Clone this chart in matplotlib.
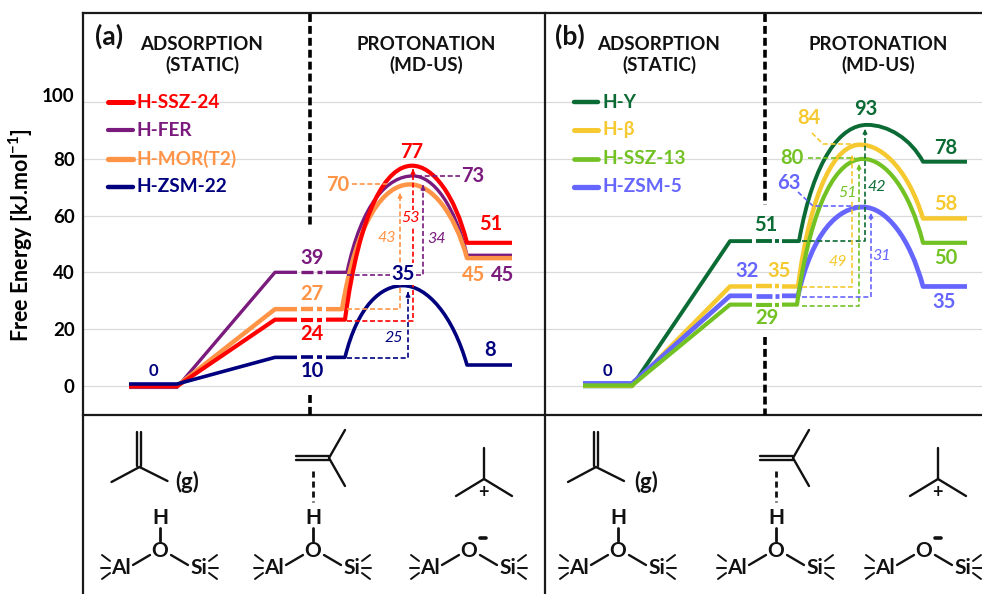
import matplotlib
matplotlib.use('Agg')
import matplotlib.pyplot as plt
from matplotlib.path import Path
from matplotlib.patches import PathPatch
from matplotlib.transforms import ScaledTranslation

plt.rcParams['font.family'] = ['Lato', 'DejaVu Sans']
plt.rcParams['font.weight'] = 'bold'
plt.rcParams['mathtext.fontset'] = 'custom'
plt.rcParams['mathtext.bf'] = 'Lato:bold'

# panel (a), order = drawing order
names_a = ['H-FER', 'H-MOR(T2)', 'H-SSZ-24', 'H-ZSM-22']
colors_a = ['#7A1A7D', '#FF9447', '#FF0000', '#00007F']
widths_a = [2.4, 3.2, 3.0, 2.6]
zero_a = [-0.6, -0.1, -0.2, 0.6]
ads_a = [40, 27, 23.3, 10]
peak_a = [74, 71, 77.6, 35.3]
prod_a = [46, 45, 50.4, 7.3]
peak_x_a = [413, 410, 412, 403]
hill_start_a = [347, 342, 345, 345]

# panel (b)
names_b = ['H-Y', 'H-β', 'H-SSZ-13', 'H-ZSM-5']
colors_b = ['#0B6B34', '#F5C92F', '#72C224', '#6666FF']
widths_b = [2.8, 3.2, 3.0, 3.4]
zero_b = [-0.2, 0.0, 0.1, 0.8]
ads_b = [51, 35, 28.6, 31.7]
peak_b = [92, 85, 80, 63]
prod_b = [79, 59, 50.4, 35]
peak_x_b = [867, 860, 863, 863]
hill_start_b = [799, 798, 797, 798]
draw_order_b = [0, 1, 3, 2]

yticks = [0, 20, 40, 60, 80, 100]

# pixel layout of the original figure
W, H = 982, 594
TOP, BOTTOM = 13, 415
Y0, PX_PER_UNIT = 385.7, 2.835


def to_y(py):
    return (Y0 - py) / PX_PER_UNIT


fig = plt.figure(figsize=(W / 100, H / 100), dpi=100)
ax_a = fig.add_axes([83 / W, (H - BOTTOM) / H, 462 / W, (BOTTOM - TOP) / H])
ax_b = fig.add_axes([545 / W, (H - BOTTOM) / H, 437 / W, (BOTTOM - TOP) / H])
ax_a.set_xlim(83, 545)
ax_b.set_xlim(545, 982)
for ax in (ax_a, ax_b):
    ax.set_ylim(to_y(BOTTOM), to_y(TOP))
    ax.set_yticks(yticks)
    ax.set_xticks([])
    ax.grid(axis='y', color='#DADADA', lw=0.9)
    ax.set_axisbelow(True)
    ax.tick_params(axis='y', length=0, labelsize=13.5, pad=6)
    for s in ax.spines.values():
        s.set_visible(False)
ax_b.tick_params(axis='y', labelleft=False)
ax_a.set_ylabel('Free Energy [kJ.mol$^{\\mathbf{-1}}$]', fontsize=15.5, fontweight='bold')
ax_a.yaxis.set_label_coords(-48 / 462, 0.448)

# the 100 label sits a little above its grid line in the original
top_label = ax_a.get_yticklabels()[-1]
top_label.set_transform(top_label.get_transform() + ScaledTranslation(0, 7 / 100, fig.dpi_scale_trans))

# overlay in pixel coordinates for frame, labels and structures
ov = fig.add_axes([0, 0, 1, 1], facecolor='none')
ov.set_xlim(0, W)
ov.set_ylim(H, 0)
ov.axis('off')


def draw_profile(ax, st, z, a, p, b, xp, x_start, color, lw):
    ax.plot([st['zero_l'], st['zero_r'], st['ads_l'], st['gap_l']], [z, z, a, a],
            color=color, lw=lw, solid_joinstyle='round', solid_capstyle='butt')
    # dash-dot break of the adsorption level
    ax.plot(st['dash'], [a, a], color=color, lw=lw, solid_capstyle='butt')
    ax.plot(st['dot'], [a, a], color=color, lw=lw, solid_capstyle='butt')
    dl = xp - x_start
    dr = st['foot'] - xp
    verts = [(st['gap_r'], a), (x_start, a),
             (x_start + 0.22 * dl, a + 0.72 * (p - a)), (xp - 0.38 * dl, p), (xp, p),
             (xp + 0.38 * dr, p), (st['foot'] - 0.22 * dr, b + 0.62 * (p - b)), (st['foot'], b),
             (st['end'], b)]
    codes = [Path.MOVETO, Path.LINETO,
             Path.CURVE4, Path.CURVE4, Path.CURVE4,
             Path.CURVE4, Path.CURVE4, Path.CURVE4,
             Path.LINETO]
    ax.add_patch(PathPatch(Path(verts, codes), fc='none', ec=color, lw=lw, joinstyle='round', capstyle='butt'))


stations_a = dict(zero_l=129, zero_r=177, ads_l=275, gap_l=297, dash=[301, 313], dot=[317, 322],
                  gap_r=326, foot=467, end=512)
stations_b = dict(zero_l=583, zero_r=632, ads_l=730, gap_l=752, dash=[756, 772], dot=[775, 779],
                  gap_r=782, foot=923, end=967)
for i in range(4):
    draw_profile(ax_a, stations_a, zero_a[i], ads_a[i], peak_a[i], prod_a[i], peak_x_a[i], hill_start_a[i],
                 colors_a[i], widths_a[i])
for i in draw_order_b:
    draw_profile(ax_b, stations_b, zero_b[i], ads_b[i], peak_b[i], prod_b[i], peak_x_b[i], hill_start_b[i],
                 colors_b[i], widths_b[i])

# frame
for seg in [((83, 83), (13, 594)), ((83, 982), (13, 13)), ((545, 545), (13, 594)), ((83, 982), (415, 415))]:
    ov.plot(seg[0], seg[1], color='#1A1A1A', lw=1.6, solid_capstyle='projecting')

# phase separators
for xs, y1, y2 in [(310, 228, 395), (765, 205, 337)]:
    ov.plot([xs, xs], [14, y1], color='black', lw=2.6, ls=(0, (2.2, 1.1)))
    ov.plot([xs, xs], [y2, 415], color='black', lw=2.6, ls=(0, (2.2, 1.1)))

# headings
for x, t1, t2 in [(202, 'ADSORPTION', '(STATIC)'), (426, 'PROTONATION', '(MD-US)'),
                  (659, 'ADSORPTION', '(STATIC)'), (878, 'PROTONATION', '(MD-US)')]:
    ov.text(x, 44, t1, ha='center', va='center', fontsize=13.5, color='#111111')
    ov.text(x, 65, t2, ha='center', va='center', fontsize=13.5, color='#111111')
ov.text(109, 36, '(a)', ha='center', va='center', fontsize=19, color='#111111')
ov.text(570, 36, '(b)', ha='center', va='center', fontsize=19, color='#111111')

# legends
legend_rows = [102, 130, 159, 187]
order_a = [2, 0, 1, 3]
order_b = [0, 1, 2, 3]
for row, i in zip(legend_rows, order_a):
    ov.plot([108, 133], [row, row], color=colors_a[i], lw=widths_a[i] + 0.6, solid_capstyle='round')
    ov.text(137, row, names_a[i], color=colors_a[i], fontsize=13.7, va='center')
for row, i in zip(legend_rows, order_b):
    ov.plot([574, 598], [row, row], color=colors_b[i], lw=widths_b[i] + 0.4, solid_capstyle='round')
    ov.text(603, row, names_b[i], color=colors_b[i], fontsize=13.7, va='center')


def connector(points, color, arrow=False):
    xs = [p[0] for p in points]
    ys = [p[1] for p in points]
    ov.plot(xs, ys, color=color, lw=1.2, ls=(0, (3, 1.6)), zorder=4)
    if arrow:
        ov.annotate('', xy=points[-1], xytext=(points[-1][0], points[-1][1] + 6),
                    arrowprops=dict(arrowstyle='-|>', color=color, lw=0.8, mutation_scale=7, shrinkA=0, shrinkB=0), zorder=4)


def value(x, y, t, color, size=14.5, box=False):
    bb = dict(fc='white', ec='none', pad=0.8) if box else None
    ov.text(x, y, t, color=color, fontsize=size, ha='center', va='center', bbox=bb, zorder=6)


def barrier(x, y, t, color):
    ov.text(x, y, t, color=color, fontsize=11.5, ha='center', va='center', style='italic', fontweight='normal',
            bbox=dict(fc='white', ec='none', pad=0.6), zorder=5)


red, purple, orange, navy = colors_a[2], colors_a[0], colors_a[1], colors_a[3]
dgreen, yellow, green, blue = colors_b

# (a) arrows
connector([(347, 321), (413, 321), (413, 169)], red, True)
connector([(347, 275), (423, 275), (423, 185)], purple, True)
connector([(347, 309), (400, 309), (400, 193)], orange, True)
connector([(347, 358), (408, 358), (408, 292)], navy, True)
connector([(352, 184), (387, 184)], orange)
connector([(417, 176), (460, 176)], purple)
barrier(411, 218, '53', red)
barrier(437, 239, '34', purple)
barrier(387, 238, '43', orange)
barrier(394, 338, '25', navy)

# (a) values
value(153, 371, '0', navy, 12)
value(312, 258, '39', purple)
value(312, 294, '27', orange)
value(312, 334, '24', red)
value(312, 371, '10', navy)
value(412, 152, '77', red)
value(338, 185, '70', orange)
value(473, 176, '73', purple)
value(403, 274, '35', navy, box=True)
value(491, 224, '51', red)
value(474, 275, '45', orange)
value(503, 275, '45', purple)
value(490, 350, '8', navy)

# (b) arrows
connector([(802, 241), (865, 241), (865, 129)], dgreen, True)
connector([(802, 287), (852, 287), (852, 155)], yellow, True)
connector([(802, 306), (859, 306), (859, 164)], green, True)
connector([(802, 297), (871, 297), (871, 213)], blue, True)
connector([(812, 133), (823, 144), (860, 144)], yellow)
connector([(808, 158), (855, 158)], green)
connector([(798, 192), (813, 206), (860, 206)], blue)
barrier(877, 187, '42', dgreen)
barrier(848, 193, '51', green)
barrier(838, 262, '49', yellow)
barrier(882, 256, '31', blue)

# (b) values
value(607, 371, '0', navy, 12)
value(766, 225, '51', dgreen)
value(747, 271, '32', blue)
value(779, 271, '35', yellow)
value(767, 318, '29', green, box=True)
value(866, 109, '93', dgreen)
value(809, 118, '84', yellow)
value(792, 158, '80', green)
value(789, 183, '63', blue)
value(946, 148, '78', dgreen)
value(946, 204, '58', yellow)
value(946, 258, '50', green)
value(944, 302, '35', blue)

# chemical structures
BOND = '#111111'


def bond(x1, y1, x2, y2, lw=1.7, **kw):
    ov.plot([x1, x2], [y1, y2], color=BOND, lw=lw, solid_capstyle='round', **kw)


def atom(x, y, t, size=15):
    ov.text(x, y, t, color=BOND, fontsize=size, ha='center', va='center')


def isobutene_gas(cx, gx):
    bond(cx - 2, 432, cx - 2, 466)
    bond(cx + 2, 432, cx + 2, 466)
    bond(cx, 467, cx - 28, 482)
    bond(cx, 467, cx + 28, 481)
    atom(gx, 482, '(g)', 16)


def isobutene_ads(cx, dx):
    bond(cx - 33, 456, cx, 456)
    bond(cx - 33, 460, cx, 460)
    bond(cx, 458, cx + 16, 430)
    bond(cx, 458, cx + 16, 486)
    ov.plot([dx, dx], [471, 502], color=BOND, lw=2.0, ls=(0, (2.2, 1.4)))


def carbocation(cx):
    bond(cx, 479, cx, 448)
    bond(cx, 479, cx - 28, 496)
    bond(cx, 479, cx + 28, 496)
    atom(cx - 1, 492, '+', 13)


def site(ox, proton=True, minus_x=None):
    atom(ox, 551, 'O')
    atom(ox - 39, 568, 'Al')
    atom(ox + 39, 568, 'Si')
    bond(ox - 27, 565, ox - 10, 555)
    bond(ox + 11, 555, ox + 28, 565)
    for sgn, base in ((-1, ox - 50), (1, ox + 49)):
        bond(base, 561, base + sgn * 8, 555, lw=1.4)
        bond(base, 568, base + sgn * 9, 568, lw=1.4)
        bond(base, 573, base + sgn * 8, 579, lw=1.4)
    if proton:
        atom(ox, 518, 'H')
        bond(ox, 528, ox, 541, lw=2.0)
    if minus_x is not None:
        bond(minus_x - 3, 538, minus_x + 3, 538, lw=2.6)


isobutene_gas(139.5, 187)
isobutene_ads(329, 313)
carbocation(484)
site(160)
site(313)
site(469, proton=False, minus_x=483)

isobutene_gas(596, 646)
isobutene_ads(793, 776)
carbocation(938)
site(618)
site(776)
site(924, proton=False, minus_x=938)

fig.savefig('out.png', dpi=100, facecolor='white')
